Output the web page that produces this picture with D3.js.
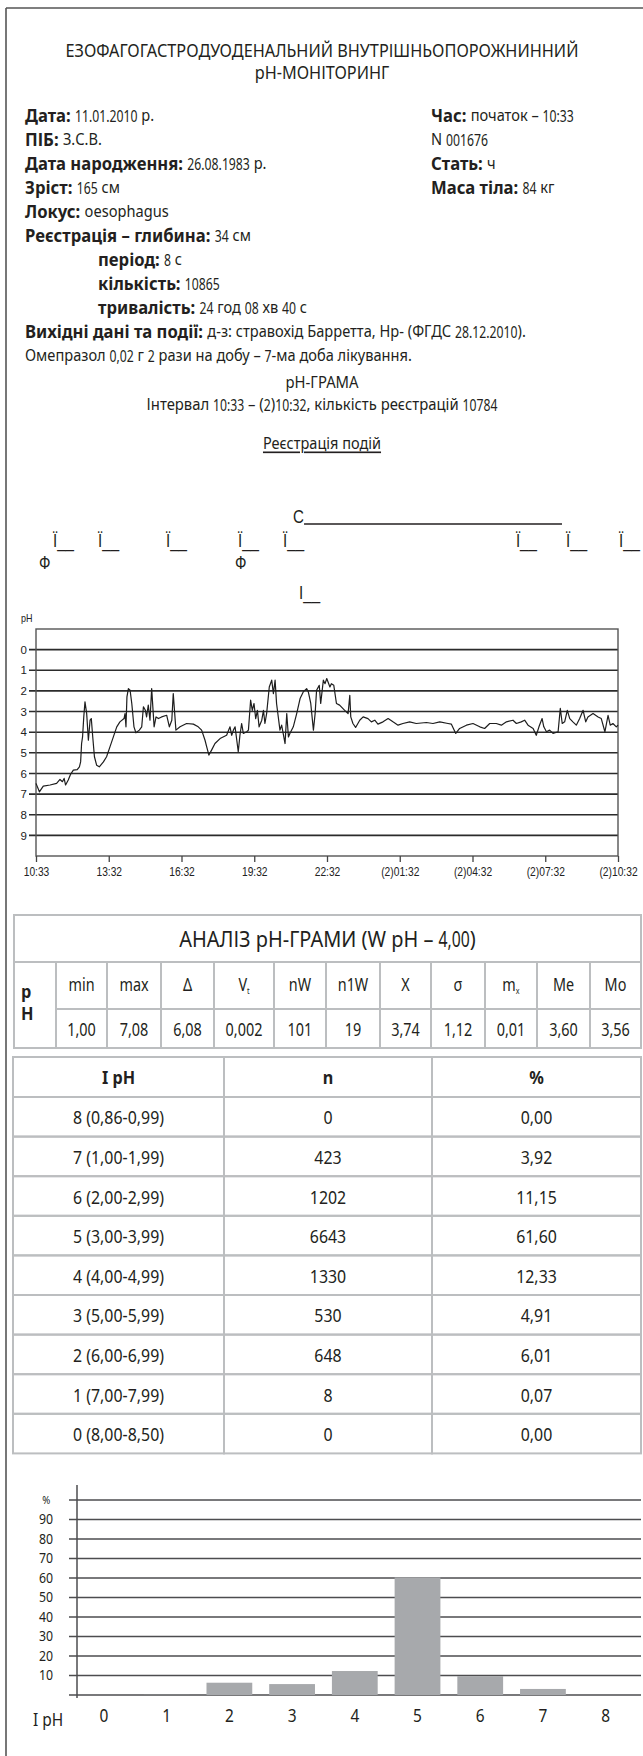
<!DOCTYPE html>
<html><head><meta charset="utf-8">
<script src="https://cdn.jsdelivr.net/npm/d3@7"></script>
<style>
html,body{margin:0;padding:0;background:#fff;}
svg{display:block;font-family:"Noto Sans",sans-serif;}
svg text{white-space:pre;}
</style></head><body>
<svg id="c" width="643" height="1756"></svg>
<script>
// ---------------- DATA ----------------
const titleLines = ["ЕЗОФАГОГАСТРОДУОДЕНАЛЬНИЙ ВНУТРІШНЬОПОРОЖНИННИЙ", "pH-МОНІТОРИНГ"];
const infoLeft = [
  ["Дата:", "11.01.2010 р.", 0],
  ["ПІБ:", "З.С.В.", 0],
  ["Дата народження:", "26.08.1983 р.", 0],
  ["Зріст:", "165 см", 0],
  ["Локус:", "oesophagus", 0],
  ["Реєстрація – глибина:", "34 см", 0],
  ["період:", "8 с", 1],
  ["кількість:", "10865", 1],
  ["тривалість:", "24 год 08 хв 40 с", 1],
  ["Вихідні дані та події:", "д-з: стравохід Барретта, Hp- (ФГДС 28.12.2010).", 0],
  ["", "Омепразол 0,02 г 2 рази на добу – 7-ма доба лікування.", 0]
];
const infoRight = [
  ["Час:", "початок – 10:33"],
  ["", "N 001676"],
  ["Стать:", "ч"],
  ["Маса тіла:", "84 кг"]
];
const gramTitle = ["pH-ГРАМА", "Інтервал 10:33 – (2)10:32, кількість реєстрацій 10784"];
const eventsTitle = "Реєстрація подій";
// events: hours from 10:33, label, row
const eventHours = [0.70, 2.56, 5.36, 8.33, 10.19, 19.79, 21.86, 24.04, 0.12, 8.21, 10.60, 10.85];
const eventLabels = ["Ї__", "Ї__", "Ї__", "Ї__", "Ї__", "Ї__", "Ї__", "Ї__", "Ф", "Ф", "С", "І__"];
const eventRows = [1, 1, 1, 1, 1, 1, 1, 1, 2, 2, 0, 3];
const sleepEnd = 21.69;

const phHours = [0,0.14,0.30,0.58,0.85,0.99,1.09,1.16,1.22,1.33,1.43,1.54,1.70,1.79,1.84,1.88,1.92,1.97,2.02,2.09,2.16,2.23,2.28,2.34,2.41,2.50,2.61,2.78,2.91,3.05,3.19,3.33,3.46,3.63,3.67,3.71,3.75,3.81,3.88,3.95,4.04,4.12,4.26,4.36,4.43,4.51,4.56,4.63,4.70,4.77,4.87,4.95,5.05,5.18,5.39,5.50,5.60,5.66,5.77,5.94,6.21,6.49,6.69,6.83,6.97,7.04,7.13,7.24,7.38,7.59,7.86,8.00,8.07,8.14,8.21,8.28,8.34,8.41,8.48,8.55,8.69,8.76,8.85,8.92,8.99,9.06,9.13,9.20,9.31,9.38,9.44,9.51,9.62,9.72,9.79,9.86,9.92,10.06,10.13,10.27,10.34,10.41,10.47,10.61,10.75,10.89,11.02,11.16,11.23,11.33,11.44,11.51,11.57,11.68,11.74,11.85,11.92,11.99,12.12,12.18,12.28,12.39,12.52,12.73,12.87,12.94,12.98,13.07,13.18,13.35,13.49,13.69,13.83,13.97,14.10,14.31,14.52,14.72,14.93,15.13,15.41,15.68,16.10,16.37,16.65,16.99,17.13,17.31,17.47,17.75,18.02,18.30,18.50,18.71,18.98,19.19,19.40,19.67,19.81,20.01,20.15,20.29,20.50,20.63,20.74,20.87,20.94,21.05,21.18,21.32,21.53,21.62,21.70,21.80,21.91,22.01,22.14,22.28,22.42,22.56,22.67,22.76,22.97,23.18,23.31,23.46,23.59,23.68,23.79,23.93,24.00];
const phValues = [6.48,6.89,6.61,6.56,6.48,6.29,6.40,6.24,6.56,6.32,6.03,5.84,5.81,5.68,5.44,4.55,4.23,3.26,2.53,3.10,4.39,3.42,3.34,4.23,5.19,5.60,5.68,5.44,5.19,4.71,4.23,3.74,3.50,3.34,3.10,3.74,2.29,1.89,1.97,2.61,3.74,4.03,3.90,3.74,2.77,2.94,3.26,2.69,3.42,1.89,3.74,3.26,3.34,3.26,3.18,3.74,3.42,2.13,3.90,3.74,3.58,3.61,3.74,3.90,4.39,4.71,5.11,4.87,4.55,4.31,4.15,3.74,4.15,3.90,3.74,4.39,4.95,4.15,3.58,4.06,3.98,3.90,2.45,2.94,2.61,3.34,2.94,3.74,3.42,2.94,3.58,3.10,1.81,1.48,2.13,1.48,2.61,3.90,3.66,4.55,3.10,4.23,4.06,3.74,3.10,2.37,2.05,1.89,2.05,2.61,3.90,3.10,1.97,1.73,2.61,1.48,1.65,1.40,1.81,1.65,1.73,2.61,2.69,2.94,3.10,2.21,3.26,3.58,3.77,3.42,3.26,3.34,3.50,3.42,3.61,3.50,3.34,3.50,3.66,3.58,3.50,3.58,3.53,3.58,3.50,3.58,3.61,4.06,3.82,3.66,3.58,3.74,3.82,3.58,3.58,3.66,3.50,3.42,3.58,3.50,3.42,3.66,3.82,4.15,3.74,3.34,3.74,3.98,3.90,4.06,3.98,2.85,3.58,3.50,2.94,3.34,3.50,3.66,3.34,2.94,3.50,3.26,3.10,3.26,3.34,3.98,3.18,3.66,3.58,3.74,3.66];
const timeTicks = [0, 3, 6, 9, 12, 15, 18, 21, 24];
const timeTickLabels = ["10:33", "13:32", "16:32", "19:32", "22:32", "(2)01:32", "(2)04:32", "(2)07:32", "(2)10:32"];
const phTicks = [0, 1, 2, 3, 4, 5, 6, 7, 8, 9];

const statsTitle = "АНАЛІЗ pH-ГРАМИ (W pH – 4,00)";
const statsHeaders = [["min"], ["max"], ["Δ"], ["V", "t"], ["nW"], ["n1W"], ["X"], ["σ"], ["m", "x"], ["Me"], ["Mo"]];
const statsValues = ["1,00", "7,08", "6,08", "0,002", "101", "19", "3,74", "1,12", "0,01", "3,60", "3,56"];

const intervalHeaders = ["I pH", "n", "%"];
const intervalLabels = ["8 (0,86-0,99)", "7 (1,00-1,99)", "6 (2,00-2,99)", "5 (3,00-3,99)", "4 (4,00-4,99)", "3 (5,00-5,99)", "2 (6,00-6,99)", "1 (7,00-7,99)", "0 (8,00-8,50)"];
const intervalN = ["0", "423", "1202", "6643", "1330", "530", "648", "8", "0"];
const intervalPct = ["0,00", "3,92", "11,15", "61,60", "12,33", "4,91", "6,01", "0,07", "0,00"];

const barCategories = ["0", "1", "2", "3", "4", "5", "6", "7", "8"];
const barPercent = [0, 0.07, 6.3, 5.6, 12.3, 60.3, 9.7, 3.1, 0];
const barTicks = [10, 20, 30, 40, 50, 60, 70, 80, 90, 100];

// ---------------- DRAW ----------------
const svg = d3.select("#c");
const INK = "#231f20";
const FONT = '"Noto Sans", sans-serif';
const ARIAL = '"Liberation Sans", Arial, sans-serif';

function T(g, x, y, parts, o = {}) {
  const k = o.k ?? 0.84;
  const t = g.append("text")
    .attr("transform", `translate(${x},${y}) scale(${k},1)`)
    .attr("text-anchor", o.anchor || "start")
    .attr("dominant-baseline", "central")
    .attr("font-size", o.size || 16)
    .attr("font-family", o.family || FONT)
    .attr("fill", o.fill || INK);
  parts.forEach(p => {
    if (typeof p === "string") p = { t: p };
    const ts = t.append("tspan").text(p.t);
    if (p.b) ts.attr("font-weight", 700);
    if (p.sub) ts.attr("font-size", p.sub).attr("baseline-shift", "sub");
  });
  return t;
}
// Rich line: segments [{t, b}], digit runs are set narrower (geometric condensed look)
function rich(g, x, y, segs, o) {
  const gg = g.append("g");
  let cx = 0;
  segs.forEach(sg => {
    if (!sg.t) return;
    const runs = sg.t.split(/(\d+(?:[.,:]\d+)*)/);
    runs.forEach((r, idx) => {
      if (!r) return;
      const isNum = idx % 2 === 1;
      const k = isNum ? o.kDigit : (sg.b ? o.kBold : o.kText);
      const t = gg.append("text")
        .attr("transform", `translate(${cx},0) scale(${k},1)`)
        .attr("dominant-baseline", "central")
        .attr("font-size", o.size)
        .attr("font-family", FONT)
        .attr("font-weight", sg.b ? 700 : 400)
        .attr("fill", INK)
        .text(r);
      cx += t.node().getComputedTextLength() * k;
    });
  });
  const off = o.anchor === "middle" ? -cx / 2 : 0;
  gg.attr("transform", `translate(${x + off},${y})`);
  return gg;
}

// page frame (left + top)
svg.append("line").attr("x1", 6).attr("x2", 6).attr("y1", 8).attr("y2", 1756).attr("stroke", "#555").attr("stroke-width", 1.6);
svg.append("line").attr("x1", 6).attr("x2", 643).attr("y1", 8).attr("y2", 8).attr("stroke", "#555").attr("stroke-width", 1.6);

// Title
titleLines.forEach((s, i) => T(svg, 322, 50 + i * 22, [s], { anchor: "middle", size: 17.5, k: 0.93 }));

// Info block
const infoY0 = 115, infoStep = 24;
const infoStyle = { size: 17, kBold: 0.98, kText: 0.86, kDigit: 0.72 };
infoLeft.forEach((r, i) => {
  rich(svg, r[2] ? 98 : 25, infoY0 + i * infoStep, [{ t: r[0] ? r[0] + " " : "", b: 1 }, { t: r[1] }], infoStyle);
});
infoRight.forEach((r, i) => {
  rich(svg, 431, infoY0 + i * infoStep, [{ t: r[0] ? r[0] + " " : "", b: 1 }, { t: r[1] }], infoStyle);
});

// pH-gram titles
const gStyle = { size: 16.5, kBold: 1, kText: 0.9, kDigit: 0.74, anchor: "middle" };
rich(svg, 322, 382, [{ t: gramTitle[0] }], gStyle);
rich(svg, 322, 404, [{ t: gramTitle[1] }], gStyle);
const et = T(svg, 322, 443, [eventsTitle], { anchor: "middle", size: 16.5, k: 0.88 });
et.attr("text-decoration", "underline");

// pH chart scales
const x = d3.scaleLinear().domain([0, 24]).range([36, 618]);
const y = d3.scaleLinear().domain([-1, 10]).range([629, 856]);

// events
const rowY = [517, 541, 563, 593];
eventHours.forEach((h, i) => {
  T(svg, x(h), rowY[eventRows[i]], [eventLabels[i]], { size: 18, k: 0.84, family: ARIAL });
});
const sleepIdx = eventLabels.indexOf("С");
svg.append("line")
  .attr("x1", x(eventHours[sleepIdx]) + 11).attr("x2", x(sleepEnd))
  .attr("y1", rowY[0] + 7).attr("y2", rowY[0] + 7)
  .attr("stroke", INK).attr("stroke-width", 1.3);

// gridlines + frame
const gch = svg.append("g");
gch.selectAll("line.grid").data(phTicks).join("line")
  .attr("x1", 29).attr("x2", 618)
  .attr("y1", d => y(d)).attr("y2", d => y(d))
  .attr("stroke", "#2b2b2b").attr("stroke-width", 1.6);
gch.append("rect").attr("x", 36).attr("y", 629).attr("width", 582).attr("height", 227)
  .attr("fill", "none").attr("stroke", "#555").attr("stroke-width", 1.4);

// y axis labels
const ya = svg.append("g").attr("transform", "translate(29,0)")
  .call(d3.axisLeft(y).tickValues(phTicks).tickSize(0).tickPadding(2));
ya.select(".domain").remove();
ya.selectAll("text").attr("font-family", ARIAL).attr("font-size", 11.5).attr("fill", "#222");

// x axis
const xa = svg.append("g").attr("transform", "translate(0,856)")
  .call(d3.axisBottom(x).tickValues(timeTicks).tickFormat((d, i) => timeTickLabels[i]).tickSize(6).tickPadding(5));
xa.select(".domain").remove();
xa.selectAll("line").attr("stroke", "#444").attr("stroke-width", 1.3);
xa.selectAll("text").attr("font-family", ARIAL).attr("font-size", 12.5).attr("fill", "#222")
  .attr("transform", "scale(0.82,1)");

svg.append("text").attr("transform", "translate(21,622) scale(0.9,1)").attr("font-size", 10)
  .attr("font-family", ARIAL).attr("fill", "#222").text("pH");

// pH line
const phData = phHours.map((h, i) => [h, phValues[i]]);
svg.append("path").datum(phData)
  .attr("d", d3.line().x(d => x(d[0])).y(d => y(d[1])))
  .attr("fill", "none").attr("stroke", "#1e1e1e").attr("stroke-width", 1.2).attr("stroke-linejoin", "round");

// ---------- stats table ----------
const TB = "#bcbec0";
const colX = [14, 56, 107, 161, 214, 274, 326, 380, 431, 485, 537, 590, 641];
const st = svg.append("g");
function cell(g, x0, y0, x1, y1) {
  g.append("rect").attr("x", x0).attr("y", y0).attr("width", x1 - x0).attr("height", y1 - y0)
    .attr("fill", "none").attr("stroke", TB).attr("stroke-width", 2);
}
cell(st, 14, 915, 641, 962);
rich(st, 327.5, 939, [{ t: statsTitle }], { size: 21, kBold: 1, kText: 0.95, kDigit: 0.75, anchor: "middle" });
cell(st, 14, 962, 56, 1048);
T(st, 21, 991, [{ t: "р", b: 1 }], { size: 18, k: 0.9 });
T(st, 21, 1013, [{ t: "Н", b: 1 }], { size: 18, k: 0.9 });
statsHeaders.forEach((h, i) => {
  const x0 = colX[i + 1], x1 = colX[i + 2];
  cell(st, x0, 962, x1, 1009);
  cell(st, x0, 1009, x1, 1048);
  const parts = [{ t: h[0] }];
  if (h[1]) parts.push({ t: h[1], sub: 9 });
  T(st, (x0 + x1) / 2, 984, parts, { anchor: "middle", size: 18, k: 0.8 });
  T(st, (x0 + x1) / 2, 1028, [statsValues[i]], { anchor: "middle", size: 19, k: 0.76 });
});

// ---------- interval table ----------
const iX = [13, 224, 432, 641];
const it = svg.append("g");
const rowTop = 1057, headH = 40, rowH = 39.6;
intervalHeaders.forEach((h, j) => {
  cell(it, iX[j], rowTop, iX[j + 1], rowTop + headH);
  T(it, (iX[j] + iX[j + 1]) / 2, rowTop + headH / 2, [{ t: h, b: 1 }], { anchor: "middle", size: 18, k: 0.9 });
});
intervalLabels.forEach((lab, i) => {
  const y0 = rowTop + headH + i * rowH;
  const vals = [lab, intervalN[i], intervalPct[i]];
  vals.forEach((v, j) => {
    cell(it, iX[j], y0, iX[j + 1], y0 + rowH);
    T(it, (iX[j] + iX[j + 1]) / 2, y0 + rowH / 2, [v], { anchor: "middle", size: 18.5, k: 0.86 });
  });
});

// ---------- bar chart ----------
const yB = d3.scaleLinear().domain([0, 100]).range([1695, 1500]);
const xB = d3.scaleBand().domain(barCategories).range([72.6, 637]).paddingInner(0.27).paddingOuter(0.135);
const bc = svg.append("g");
bc.selectAll("line.g").data([0].concat(barTicks)).join("line")
  .attr("x1", 69).attr("x2", 641)
  .attr("y1", d => yB(d)).attr("y2", d => yB(d))
  .attr("stroke", "#4d4d4f").attr("stroke-width", 1.5);
bc.selectAll("rect").data(barPercent).join("rect")
  .attr("x", (d, i) => xB(barCategories[i]))
  .attr("width", xB.bandwidth())
  .attr("y", d => yB(d))
  .attr("height", d => yB(0) - yB(d))
  .attr("fill", "#a7a9ac");
bc.append("line").attr("x1", 77).attr("x2", 77).attr("y1", 1485).attr("y2", 1698)
  .attr("stroke", "#4d4d4f").attr("stroke-width", 1.5);
const byA = bc.append("g").attr("transform", "translate(53,0)")
  .call(d3.axisLeft(yB).tickValues(barTicks).tickSize(0).tickPadding(0).tickFormat(d => d === 100 ? "%" : d));
byA.select(".domain").remove();
byA.selectAll("text").attr("font-family", FONT).attr("font-size", 14).attr("fill", INK).attr("transform", "scale(0.88,1)");
byA.selectAll(".tick").filter(d => d === 100).select("text").attr("font-size", 11).attr("x", -3);
const bxA = bc.append("g").attr("transform", "translate(0,1695)")
  .call(d3.axisBottom(xB).tickSize(0).tickPadding(14));
bxA.select(".domain").remove();
bxA.selectAll("text").attr("font-family", FONT).attr("font-size", 18).attr("fill", INK).attr("transform", "scale(0.86,1)");
T(bc, 33, 1718, ["I pH"], { size: 18, k: 0.86 });
</script>
</body></html>
